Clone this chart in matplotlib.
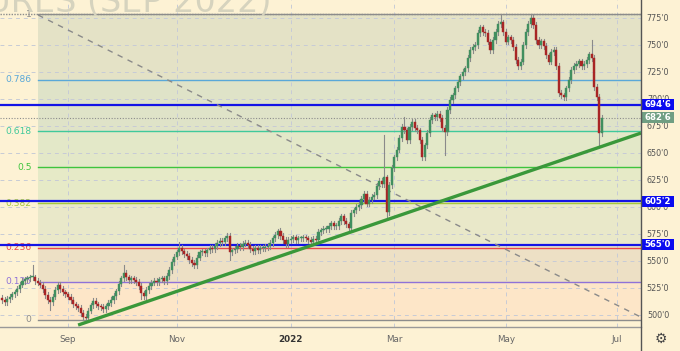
#plot.py

import numpy as np
import pandas as pd
import matplotlib
matplotlib.use("Agg")
import matplotlib.pyplot as plt
import matplotlib.transforms as mtransforms
from matplotlib.patches import Rectangle

# daily closes, first bar 2021-07-27
start_date = "2021-07-27"
first_open = 516
closes = [
    514, 512, 515, 517, 519, 521, 524, 528, 531.5, 533,
    534, 535, 535, 531.5, 530, 528, 524, 518.5, 514, 512,
    517, 523, 528, 524, 521, 519, 517, 514, 510, 508,
    506.5, 502, 498, 497, 504, 509, 513, 510, 508, 507.5,
    505.5, 508, 511, 514, 517.5, 522, 529, 534, 539, 535,
    532.5, 534, 532.5, 530.5, 527, 520, 517.5, 523, 527, 530,
    531.5, 530.5, 533, 534, 531.5, 536, 541.5, 549, 554, 558,
    562, 559, 556.5, 554.5, 551, 548, 546, 553, 558, 559,
    557.5, 560, 562, 561, 564, 566.5, 568.5, 567.5, 571, 573,
    558, 560, 561, 564, 563, 566, 566.5, 565, 561, 559,
    562, 560, 562, 562, 563, 564, 566.5, 571, 574, 578,
    573, 569.5, 565.5, 569.5, 570.5, 572, 569.5, 571, 571, 572,
    571, 569.5, 567.5, 570.5, 569.5, 577, 578.5, 579.5, 579.5, 582.5,
    585, 582.5, 582.5, 587, 591.5, 587, 584, 580.5, 594.5, 597,
    600, 602, 607.5, 612, 603, 606.5, 609.5, 611, 619.5, 624,
    621, 627.5, 595.5, 620.5, 636, 646, 653, 664, 674, 671,
    662, 674, 679, 673, 671, 662, 646, 657, 668.5, 680.5,
    685, 683, 686, 682.5, 673, 669.5, 690, 699, 703.5, 710,
    715.5, 721, 725, 728.5, 738, 745.5, 748, 750, 761, 766.5,
    762, 761, 753, 745.5, 754.5, 762, 769.5, 771, 762, 753,
    757, 754.5, 748, 736, 730.5, 734.5, 750, 762, 769.5, 775,
    768.5, 754.5, 750, 753.5, 749, 740.5, 734.5, 743.5, 745.5, 730.5,
    705.5, 703.5, 702, 710, 717.5, 727, 730.5, 732.5, 735, 730.5,
    732.5, 736, 741.5, 738, 711, 702, 668.5, 682.75,
]
# wicks that stick out clearly (bar index: price)
long_highs = {12: 546, 48: 546, 70: 567.5, 89: 576, 109: 580, 151: 666.7,
              159: 683, 197: 778, 209: 778.5, 233: 754.5}
long_lows = {19: 504.6, 33: 495.5, 55: 515, 76: 543.5, 90: 551, 152: 590,
             166: 643.5, 175: 648, 236: 657.5}

# fibonacci retracement
fib_low = 495.5
fib_high = 778.5
fib_start = 14.2
fib_levels = [0, 0.125, 0.236, 0.382, 0.5, 0.618, 0.786, 1]
fib_labels = ["0", "0.125", "0.236", "0.382", "0.5", "0.618", "0.786", "1"]
fib_colors = ["#8c8c8c", "#8f72d8", "#e8474a", "#a6c83a", "#3dc43d",
              "#40c99b", "#5aa8d8", "#8c8c8c"]
band_colors = ["#fde6c8", "#ede0c5", "#e9e8c9", "#e6eac7", "#e3e8c8",
               "#dfe3c8", "#e4e2c6"]

key_levels = [694.75, 605.25, 565.0]
last_price = 682.75

trend_pts = [(30, 490.7), (252.5, 668.5)]
diag_pts = [(14.2, 777.8), (252.5, 498.0)]

price_ticks = list(range(500, 776, 25))
tick_months = ["2021-09", "2021-11", "2022-01", "2022-03", "2022-05", "2022-07"]
tick_labels = ["Sep", "Nov", "2022", "Mar", "May", "Jul"]


def fmt(p):
    whole = int(p)
    return "%d'%d" % (whole, round((p - whole) * 8))


bg = "#fdf2d4"
fig = plt.figure(figsize=(6.8, 3.51), dpi=100)
fig.patch.set_facecolor(bg)
ax = fig.add_axes([0, 24 / 351, 641 / 680, 327 / 351])
ax.set_facecolor(bg)
x_lo, x_hi = -0.87, 252.5
y_lo, y_hi = 488.9, 791.7
ax.set_xlim(x_lo, x_hi)
ax.set_ylim(y_lo, y_hi)
for s in ax.spines.values():
    s.set_visible(False)
ax.set_xticks([])
ax.set_yticks([])

# watermark
fig.text(272 / 680, 1 - 12 / 351, "WHEAT FUTURES (SEP 2022)", ha="right",
         va="baseline", fontsize=24, color="#d6d3be", zorder=0)

# fib bands and lines
prices = [fib_low + l * (fib_high - fib_low) for l in fib_levels]
for k in range(len(prices) - 1):
    ax.fill_between([fib_start, x_hi], prices[k], prices[k + 1],
                    color=band_colors[k], lw=0, zorder=1)
for p, lab, c in zip(prices, fib_labels, fib_colors):
    ax.plot([fib_start, x_hi], [p, p], color=c, lw=1, zorder=3)
    ax.text(fib_start - 2.6, p, lab, ha="right", va="center", fontsize=6.6,
            color=c, zorder=3)
ax.plot([x_lo, x_hi], [prices[-1], prices[-1]], color="#8c8c8c", lw=1,
        ls=(0, (1, 1)), zorder=3)

# dashed grid
dates = pd.bdate_range(start_date, periods=260)
tick_idx = [int(np.searchsorted(dates, pd.Timestamp(m + "-01"))) for m in tick_months]
for p in price_ticks:
    ax.axhline(p, color="#c7cbd6", lw=0.7, ls=(0, (4, 4)), zorder=2)
for t in tick_idx:
    ax.axvline(t, color="#c7cbd6", lw=0.7, ls=(0, (4, 4)), zorder=2)

# horizontal key lines
for p in key_levels:
    ax.axhline(p, color="#1414e6", lw=1.6, zorder=4)
ax.axhline(last_price, color="#8c8c8c", lw=0.8, ls=(0, (1, 1.5)), zorder=4)

# diagonal dashed
(dx0, dy0), (dx1, dy1) = diag_pts
ax.plot([dx0, dx1], [dy0, dy1], color="#8a8a8a", lw=1, ls=(0, (4, 4)), zorder=4)

# candles
opens = [first_open] + closes[:-1]
for i, (o, c) in enumerate(zip(opens, closes)):
    hi = long_highs.get(i, max(o, c) + 2.5)
    lo = long_lows.get(i, min(o, c) - 2.5)
    col = "#418f5f" if c >= o else "#a82525"
    ax.plot([i, i], [lo, hi], color="#8a8a8a", lw=0.8, zorder=5)
    ax.add_patch(Rectangle((i - 0.42, min(o, c)), 0.84, max(abs(c - o), 0.8),
                           facecolor=col, edgecolor=col, lw=0.3, zorder=6))

# trend line
(tx0, ty0), (tx1, ty1) = trend_pts
ax.plot([tx0, tx1], [ty0, ty1], color="#3a983a", lw=2.4, zorder=7,
        solid_capstyle="butt")

# right price scale
tr = mtransforms.blended_transform_factory(fig.transFigure, ax.transData)
for p in price_ticks:
    ax.text(658 / 680, p, fmt(p), transform=tr, ha="center", va="center",
            fontsize=5.8, color="#555555", clip_on=False, zorder=8)
boxes = [(p, "#0a0af0") for p in key_levels] + [(last_price, "#6f9e82")]
for p, c in boxes:
    ax.add_patch(Rectangle((641 / 680, p - 5.2), 33 / 680, 10.4, transform=tr,
                           facecolor=c, edgecolor="none", clip_on=False, zorder=9))
    ax.text(657.5 / 680, p, fmt(p), transform=tr, ha="center", va="center",
            fontsize=6.2, color="white", fontweight="bold", clip_on=False, zorder=10)

# bottom time scale
trx = mtransforms.blended_transform_factory(ax.transData, fig.transFigure)
for t, lab in zip(tick_idx, tick_labels):
    bold = lab == "2022"
    ax.text(t, 12 / 351, lab, transform=trx, ha="center", va="center",
            fontsize=6.3, color="#333333" if bold else "#666666",
            fontweight="bold" if bold else "normal", clip_on=False)

# separators and gear
fig.add_artist(plt.Line2D([0, 641 / 680], [24 / 351, 24 / 351], color="#999999", lw=1))
fig.add_artist(plt.Line2D([641 / 680, 641 / 680], [0, 1], color="#555555", lw=1))
fig.text(661 / 680, 12 / 351, "\u2699", ha="center", va="center", fontsize=10,
         color="#444444")

fig.savefig("out.png", dpi=100, facecolor=bg)
